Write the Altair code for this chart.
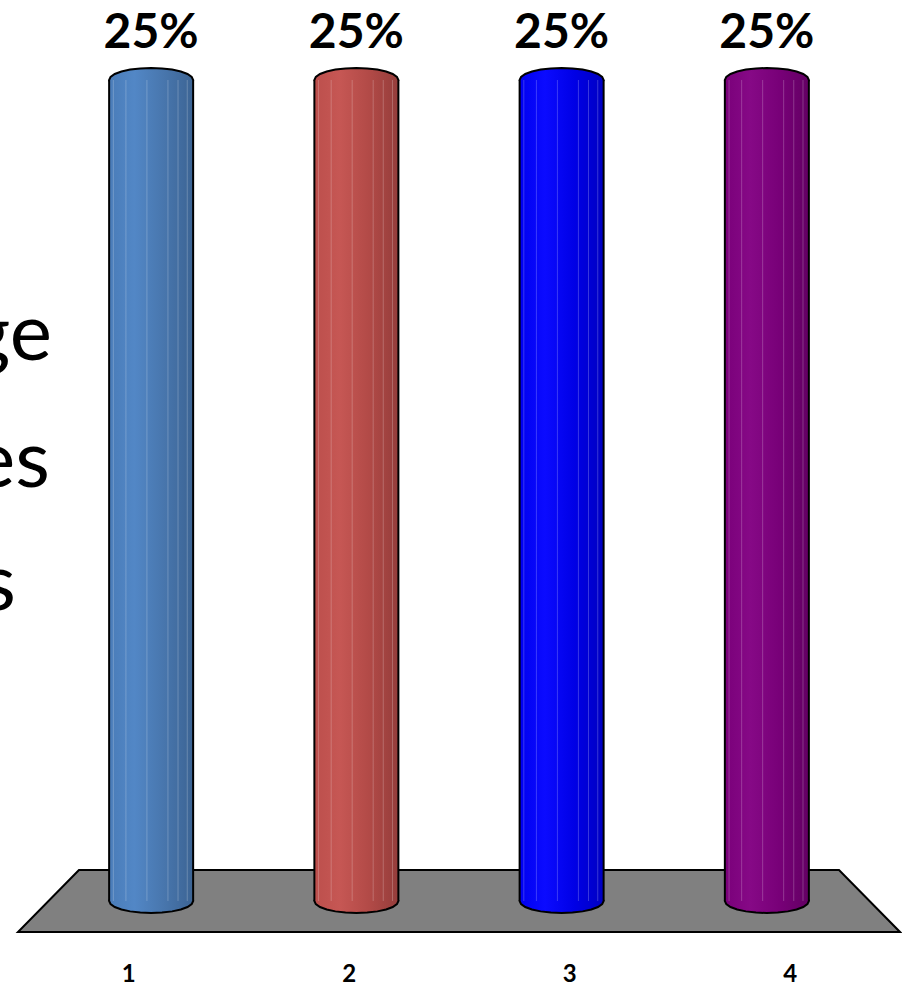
import math

import altair as alt
import pandas as pd

# ---- data -------------------------------------------------------------
categories = [1, 2, 3, 4]
shares = [25, 25, 25, 25]  # percent of responses
# tail ends of the side caption that runs off the left edge
caption_parts = ["ge", "es", "s"]
caption_x = [0.654, 0.645, 0.491]
caption_y = [16.47, 12.61, 8.86]

# left -> right shading of each cylinder
ramps = [
    ["#4a7cb8", "#5287c6", "#4876ad", "#3c6494"],
    ["#bc4f4c", "#c65754", "#b24a47", "#953d3b"],
    ["#0000f0", "#0b0bff", "#0000e6", "#0000c2"],
    ["#7a007a", "#860986", "#780078", "#630063"],
]

# ---- perspective set-up ------------------------------------------------
VANISH = 2.5          # horizontal vanishing centre (category units)
BACK_SHRINK = 0.8617  # width factor of the back edge of the floor
BAR_SHRINK = 0.9308   # width factor at the depth the cylinders stand
DEPTH = 0.944         # half depth of the floor, in value units
HALF = 0.1905         # half width of a cylinder, category units
PX_PER_UNIT = 220.5
X_DOMAIN = [0.41837, 4.50907]
Y_DOMAIN = [-1.797, 27.436]

bars = pd.DataFrame({"cat": categories, "share": shares})
bars["pos"] = VANISH + (bars["cat"] - VANISH) * BAR_SHRINK
bars["left"] = bars["pos"] - HALF
bars["right"] = bars["pos"] + HALF
bars["zero"] = 0
bars["label"] = bars["share"].astype(str) + "%"

lo, hi = min(categories) - 0.5, max(categories) + 0.5
floor = pd.DataFrame({
    "d": [-DEPTH, DEPTH],
    "xl": [lo, VANISH - (VANISH - lo) * BACK_SHRINK],
    "xr": [hi, VANISH + (hi - VANISH) * BACK_SHRINK],
})

# facet seams on the cylinder surface (relative across the width)
seams = [0.05, 0.2, 0.45, 0.7, 0.82, 0.93]
stripe_rows = []
for _, r in bars.iterrows():
    for s in seams:
        stripe_rows.append({"cat": r["cat"], "xs": r["left"] + s * 2 * HALF,
                            "share": r["share"], "zero": 0})
stripes = pd.DataFrame(stripe_rows)

edges = pd.concat([
    bars[["cat", "share", "zero"]].assign(xe=bars["left"]),
    bars[["cat", "share", "zero"]].assign(xe=bars["right"]),
])

caption = pd.DataFrame({"t": caption_parts, "x": caption_x, "y": caption_y})

# faceted ellipse used for the cylinder caps
RY = 12 / 42
pts = []
for k in range(24):
    a = 2 * math.pi * k / 24
    pts.append(f"{math.cos(a):.4f},{RY * math.sin(a):.4f}")
ELLIPSE = "M" + " L".join(pts) + " Z"
CAP_SIZE = (2 * HALF * PX_PER_UNIT) ** 2

xs = alt.Scale(domain=X_DOMAIN, nice=False, zero=False)
ys = alt.Scale(domain=Y_DOMAIN, nice=False, zero=False)

x_axis = alt.Axis(
    values=categories, format="d", domain=False, ticks=False, tickSize=0,
    grid=False, title=None, labelFont="Lato", labelFontSize=24,
    labelFontWeight="bold", labelColor="black", labelBaseline="alphabetic",
    labelPadding=21, labelFlush=False,
)


def X(field):
    return alt.X(field, type="quantitative", scale=xs, axis=x_axis)


def Y(field):
    return alt.Y(field, type="quantitative", scale=ys, axis=None)


def gradient(stops):
    offs = [0, 0.3, 0.65, 1]
    return alt.LinearGradient(
        gradient="linear", x1=0, x2=1, y1=0, y2=0,
        stops=[alt.GradientStop(offset=o, color=c) for o, c in zip(offs, stops)],
    )


floor_layer = alt.Chart(floor).mark_area(
    orient="horizontal", fill="#808080", stroke="black", strokeWidth=2
).encode(y=Y("d"), x=X("xl"), x2="xr:Q")

layers = [floor_layer]
for i, cat in enumerate(categories):
    base = alt.Chart(bars).transform_filter(alt.datum.cat == cat)
    g = gradient(ramps[i])
    cap_style = dict(shape=ELLIPSE, size=CAP_SIZE, filled=True, fill=g,
                     stroke="black", strokeWidth=2, opacity=1)
    layers.append(base.mark_point(**cap_style).encode(x=X("pos"), y=Y("zero")))
    layers.append(base.mark_point(**cap_style).encode(x=X("pos"), y=Y("share")))
    layers.append(base.mark_rect(fill=g, strokeWidth=0).encode(
        x=X("left"), x2="right", y=Y("zero"), y2="share"))

layers.append(alt.Chart(stripes).mark_rule(
    color="white", strokeOpacity=0.22, strokeWidth=1
).encode(x=X("xs"), y=Y("zero"), y2="share"))

layers.append(alt.Chart(edges).mark_rule(color="black", strokeWidth=2).encode(
    x=X("xe"), y=Y("zero"), y2="share"))

layers.append(alt.Chart(bars).mark_text(
    font="Lato", fontSize=48, fontWeight="bold", color="black",
    baseline="alphabetic", dy=-32
).encode(x=X("pos"), y=Y("share"), text="label:N"))

layers.append(alt.Chart(caption).mark_text(
    font="Lato", fontSize=80, color="black", align="right", baseline="alphabetic"
).encode(x=X("x"), y=Y("y"), text="t:N"))

chart = alt.layer(*layers).properties(
    width=902, height=960,
    background="white",
    autosize=alt.AutoSizeParams(type="none"),
    padding={"left": 0, "top": 0, "right": 0, "bottom": 26},
).configure_view(stroke=None)

chart.save("out.html", embed_options={"renderer": "svg", "actions": False})
